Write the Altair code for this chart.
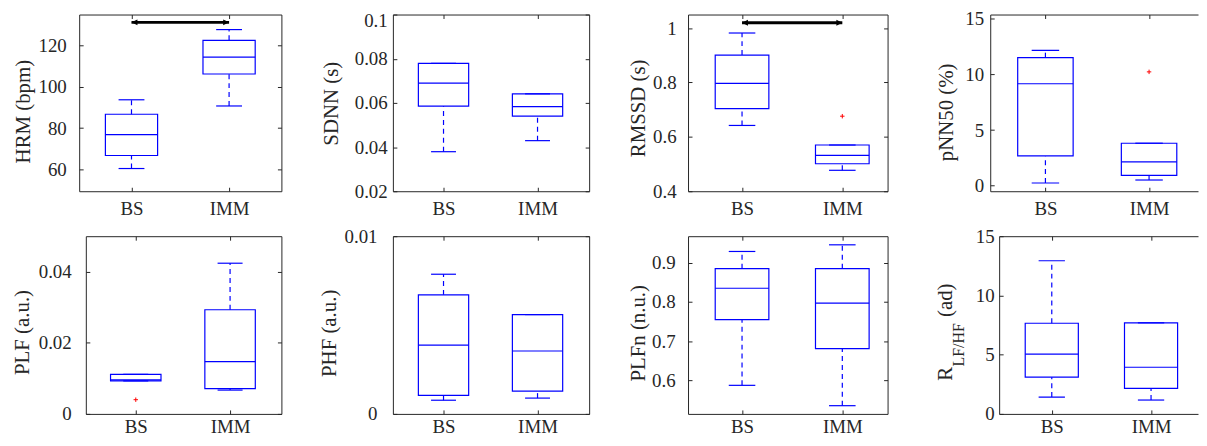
import altair as alt
import pandas as pd

# ---------------- data ----------------
groups = ["BS", "IMM"]

hrm_lo = [60.4, 90.7]
hrm_q1 = [66.7, 106.2]
hrm_med = [76.8, 114.4]
hrm_q3 = [86.7, 122.5]
hrm_hi = [93.7, 127.7]

sdnn_lo = [0.0379, 0.0429]
sdnn_q1 = [0.0585, 0.0540]
sdnn_med = [0.0689, 0.0583]
sdnn_q3 = [0.0779, 0.0641]
sdnn_hi = [0.0779, 0.0641]

rmssd_lo = [0.642, 0.477]
rmssd_q1 = [0.704, 0.501]
rmssd_med = [0.797, 0.532]
rmssd_q3 = [0.901, 0.570]
rmssd_hi = [0.982, 0.570]
rmssd_out_g = ["IMM"]
rmssd_out_v = [0.676]

pnn50_lo = [0.24, 0.51]
pnn50_q1 = [2.68, 0.92]
pnn50_med = [9.17, 2.15]
pnn50_q3 = [11.52, 3.82]
pnn50_hi = [12.17, 3.82]
pnn50_out_g = ["IMM"]
pnn50_out_v = [10.24]

plf_lo = [0.0093, 0.0067]
plf_q1 = [0.0093, 0.0071]
plf_med = [0.0096, 0.0147]
plf_q3 = [0.0111, 0.0293]
plf_hi = [0.0111, 0.0424]
plf_out_g = ["BS"]
plf_out_v = [0.0040]

phf_lo = [0.00077, 0.00089]
phf_q1 = [0.00104, 0.00128]
phf_med = [0.00387, 0.00354]
phf_q3 = [0.0067, 0.00559]
phf_hi = [0.00786, 0.00559]

plfn_lo = [0.587, 0.535]
plfn_q1 = [0.755, 0.681]
plfn_med = [0.835, 0.797]
plfn_q3 = [0.885, 0.885]
plfn_hi = [0.929, 0.946]

ratio_lo = [1.42, 1.17]
ratio_q1 = [3.10, 2.15]
ratio_med = [5.05, 3.94]
ratio_q3 = [7.65, 7.69]
ratio_hi = [12.93, 7.69]

hrm_arrow_y = [131.2, 131.2]
rmssd_arrow_y = [1.02, 1.02]

titles = ["HRM (bpm)", "SDNN (s)", "RMSSD (s)", "pNN50 (%)",
          "PLF (a.u.)", "PHF (a.u.)", "PLFn (n.u.)", "R"]
y_domains = [[49.4, 135], [0.02, 0.1], [0.4, 1.05], [-0.5, 15.4],
             [0, 0.05], [0, 0.01], [0.514, 0.968], [0, 15]]
y_ticks = [[60, 80, 100, 120], [0.02, 0.04, 0.06, 0.08, 0.1], [0.4, 0.6, 0.8, 1],
           [0, 5, 10, 15], [0, 0.02, 0.04], [0, 0.01], [0.6, 0.7, 0.8, 0.9],
           [0, 5, 10, 15]]
# tick labels that sit on the top edge get their own (slightly lowered) label axis
edge_labels = {1: [0.1]}

stats = [
    (hrm_lo, hrm_q1, hrm_med, hrm_q3, hrm_hi),
    (sdnn_lo, sdnn_q1, sdnn_med, sdnn_q3, sdnn_hi),
    (rmssd_lo, rmssd_q1, rmssd_med, rmssd_q3, rmssd_hi),
    (pnn50_lo, pnn50_q1, pnn50_med, pnn50_q3, pnn50_hi),
    (plf_lo, plf_q1, plf_med, plf_q3, plf_hi),
    (phf_lo, phf_q1, phf_med, phf_q3, phf_hi),
    (plfn_lo, plfn_q1, plfn_med, plfn_q3, plfn_hi),
    (ratio_lo, ratio_q1, ratio_med, ratio_q3, ratio_hi),
]
outliers = {2: (rmssd_out_g, rmssd_out_v), 3: (pnn50_out_g, pnn50_out_v),
            4: (plf_out_g, plf_out_v)}
arrows = {0: hrm_arrow_y, 2: rmssd_arrow_y}

# ---------------- layout / style (page pixels) ----------------
COL_X = [79, 385, 691, 997]
COL_W = [306, 306, 306, 209]
ROW_H = [178, 179]
ROW_GAP = 45.3
FRAME_L = [[79, 395, 692.3, 996.7], [85.7, 395, 692.3, 1005.7]]
FRAME_R = [[282.7, 592.7, 893.3, 1206], [282.7, 592.7, 893.3, 1206]]
TICK_A = [[131.7, 446, 746.7, 1052.3], [136, 446, 746.7, 1058.7]]
TICK_B = [[230, 540.7, 847.7, 1156.7], [231, 540.7, 847.7, 1158.7]]
LABEL_PAD = [[13, 5.7, 12, 6.7], [14.7, 16, 13, 5]]
TITLE_DX = [[49.7, 56, 44, 38], [58, 57.5, 44, 48.4]]
TITLE_CY = [[97.3, 89.3, 94, 98.1], [96.5, 97.3, 97.3, 138]]
XLAB_PAD = [8.6, 4.0]
EDGE_LABEL_SHIFT = 6.5

FONT = "Liberation Serif"
INK = "#262626"
BLUE = "#0000FF"
RED = "#FF0000"
TICK_FS = 19
TITLE_FS = 21
PLUS = "M-1,0L1,0M0,-1L0,1"
HEAD_L = "M0,0L1.8,-0.9L1.8,0.9Z"
HEAD_R = "M0,0L-1.8,-0.9L-1.8,0.9Z"
LABEL_EXPR = "toString(datum.value)"


def make_panel(i):
    r, c = divmod(i, 4)
    L, R = FRAME_L[r][c], FRAME_R[r][c]
    a = L - COL_X[c]
    W = R - L
    H = ROW_H[r]
    step = TICK_B[r][c] - TICK_A[r][c]
    pad = (W - step) / (2 * step)
    align = (TICK_A[r][c] - L) / (W - step)
    closed = c < 3

    lo, q1, med, q3, hi = stats[i]
    df = pd.DataFrame({"g": groups, "lo": lo, "q1": q1, "med": med, "q3": q3, "hi": hi})
    bw = 0.535 * step
    cw = 0.265 * step

    xs = alt.Scale(type="point", domain=groups, range=[a, a + W], padding=pad, align=align)
    ys = alt.Scale(domain=y_domains[i], nice=False, zero=False)

    common = dict(grid=False, labelOverlap=False)
    axA = alt.Axis(orient="bottom", title=None, ticks=False, tickSize=0, domain=True,
                   domainColor=INK, domainWidth=1, labelFont=FONT, labelFontSize=TICK_FS,
                   labelColor=INK, labelPadding=XLAB_PAD[r], labelAngle=0, **common)
    axB = alt.Axis(orient="top", offset=-H, title=None, labels=False, domain=False,
                   ticks=True, tickSize=4, tickColor=INK, tickWidth=1, **common)
    axC = alt.Axis(orient="bottom", offset=-H, title=None, labels=False, domain=True,
                   domainColor=INK, domainWidth=1, ticks=True, tickSize=4,
                   tickColor=INK, tickWidth=1, **common)

    edge = edge_labels.get(i, [])
    main_vals = [v for v in y_ticks[i] if v not in edge]
    lab = dict(labelExpr=LABEL_EXPR, labelFont=FONT, labelFontSize=TICK_FS,
               labelColor=INK, labelPadding=LABEL_PAD[r][c])
    dkw = dict(orient="left", offset=-a, values=main_vals, ticks=False, tickSize=0,
               domain=True, domainColor=INK, domainWidth=1,
               title=titles[i], titleX=-TITLE_DX[r][c],
               titleY=TITLE_CY[r][c], titleAngle=270, titleAlign="center",
               titleBaseline="alphabetic", titleFont=FONT, titleFontSize=TITLE_FS,
               titleFontWeight="normal", titleColor=INK, **lab, **common)
    ekw = dict(orient="right", offset=a - COL_W[c], values=y_ticks[i], labels=False,
               domain=False, ticks=True, tickSize=4, tickColor=INK, tickWidth=1,
               title=None, **common)
    fkw = dict(orient="left", offset=-(a + W), values=y_ticks[i], labels=False,
               domain=closed, domainColor=INK, domainWidth=1, ticks=closed,
               tickSize=4 if closed else 0, tickColor=INK, tickWidth=1, title=None,
               **common)
    if i == 7:
        ekw.update(title="LF/HF", titleX=-35.7, titleY=109, titleAngle=270,
                   titleAlign="center", titleBaseline="alphabetic", titleFont=FONT,
                   titleFontSize=16, titleFontWeight="normal", titleColor=INK)
        fkw.update(title="(ad)", titleX=-(W + 48.4), titleY=64, titleAngle=270,
                   titleAlign="center", titleBaseline="alphabetic", titleFont=FONT,
                   titleFontSize=TITLE_FS, titleFontWeight="normal", titleColor=INK)
    axD, axE, axF = alt.Axis(**dkw), alt.Axis(**ekw), alt.Axis(**fkw)
    axG = None
    if edge:
        axG = alt.Axis(orient="left", offset=-a, values=edge, ticks=False, tickSize=0,
                       domain=False, title=None, labelOffset=EDGE_LABEL_SHIFT,
                       **lab, **common)

    def X(ax=None):
        return alt.X("g:N", scale=xs, axis=ax)

    base = alt.Chart(df)
    box = base.mark_bar(size=bw, fill="white", fillOpacity=0, stroke=BLUE,
                        strokeWidth=1.2).encode(
        x=X(axA), y=alt.Y("q1:Q", scale=ys, axis=axD), y2="q3:Q")
    median = base.mark_tick(size=bw, thickness=1.2, color=BLUE, opacity=1).encode(
        x=X(axB), y=alt.Y("med:Q", scale=ys, axis=axE))
    cap_hi = base.mark_tick(size=cw, thickness=1.2, color=BLUE, opacity=1).encode(
        x=X(axC), y=alt.Y("hi:Q", scale=ys, axis=axF))
    cap_lo = base.mark_tick(size=cw, thickness=1.2, color=BLUE, opacity=1).encode(
        x=X(None), y=alt.Y("lo:Q", scale=ys, axis=axG))
    wh_lo = base.mark_rule(color=BLUE, strokeWidth=1.2, strokeDash=[5, 4]).encode(
        x=X(None), y=alt.Y("lo:Q", scale=ys, axis=None), y2="q1:Q")
    wh_hi = base.mark_rule(color=BLUE, strokeWidth=1.2, strokeDash=[5, 4]).encode(
        x=X(None), y=alt.Y("q3:Q", scale=ys, axis=None), y2="hi:Q")
    layers = [wh_lo, wh_hi, box, median, cap_hi, cap_lo]

    if i in outliers:
        og, ov = outliers[i]
        odf = pd.DataFrame({"g": og, "v": ov})
        layers.append(alt.Chart(odf).mark_point(
            shape=PLUS, filled=False, stroke=RED, strokeWidth=1, size=20, opacity=1
        ).encode(x=X(None), y=alt.Y("v:Q", scale=ys, axis=None)))
    if i in arrows:
        adf = pd.DataFrame({"g": groups, "v": arrows[i]})
        ab = alt.Chart(adf)
        layers.append(ab.mark_line(color="black", strokeWidth=3, strokeCap="butt").encode(
            x=X(None), y=alt.Y("v:Q", scale=ys, axis=None)))
        layers.append(ab.transform_filter(alt.datum.g == groups[0]).mark_point(
            shape=HEAD_L, filled=True, color="black", size=44, opacity=1, strokeWidth=0
        ).encode(x=X(None), y=alt.Y("v:Q", scale=ys, axis=None)))
        layers.append(ab.transform_filter(alt.datum.g == groups[1]).mark_point(
            shape=HEAD_R, filled=True, color="black", size=44, opacity=1, strokeWidth=0
        ).encode(x=X(None), y=alt.Y("v:Q", scale=ys, axis=None)))

    return alt.layer(*layers).resolve_axis(x="independent", y="independent").properties(
        width=COL_W[c], height=H)


panels = [make_panel(i) for i in range(8)]

chart = alt.concat(*panels, columns=4, spacing={"row": ROW_GAP, "column": 0},
                   bounds="flush", align="each").properties(
    padding={"left": 2.7, "top": 0, "right": 0, "bottom": -0.5},
    background="white",
).configure_view(stroke=None)

chart.save("out.html", embed_options={"renderer": "svg", "actions": False})
